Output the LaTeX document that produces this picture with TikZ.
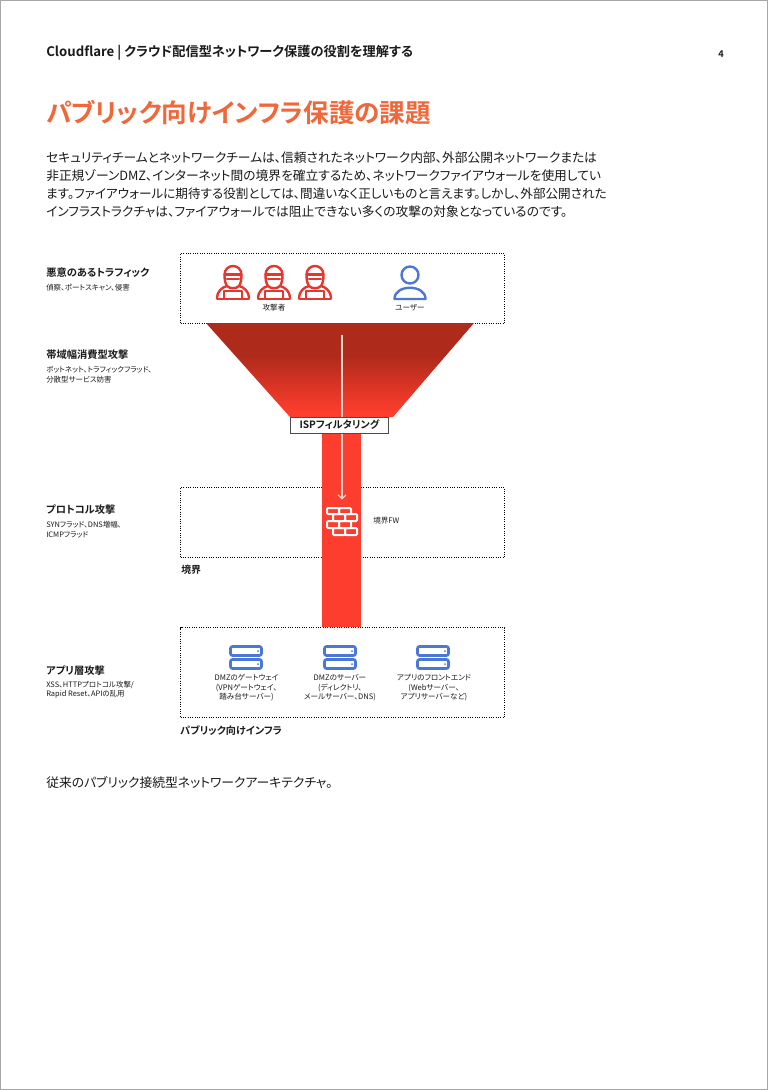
\documentclass[tikz,border=0pt]{standalone}
\usepackage{fontspec}
\setmainfont{Noto Sans CJK JP}[RawFeature=+palt]
\newfontfamily\jpbold{Noto Sans CJK JP Bold}[RawFeature=+palt]
\usetikzlibrary{arrows.meta}
\definecolor{ink}{HTML}{1A1A1A}
\definecolor{titlec}{HTML}{F0673A}
\definecolor{redc}{HTML}{E5372D}
\definecolor{bluec}{HTML}{4A78D4}
\definecolor{colc}{HTML}{FD3D2D}
\definecolor{fundark}{HTML}{AE2A1B}
\definecolor{arrowc}{HTML}{F7D6CC}
\pgfdeclareverticalshading{funnelshade}{100bp}{color(0bp)=(colc); color(28bp)=(colc); color(58bp)=(fundark); color(100bp)=(fundark)}
\tikzset{
 x=0.75pt,y=-0.75pt,
 txt/.style={anchor=west,inner sep=0pt,text=ink,font=\fontsize{#1}{#1}\selectfont},
 btxt/.style={anchor=west,inner sep=0pt,text=ink,font=\fontsize{#1}{#1}\selectfont\jpbold},
 ctxt/.style={anchor=center,inner sep=0pt,text=ink,font=\fontsize{5.7}{5.7}\selectfont},
 zone/.style={draw=black,densely dotted,line width=0.75pt,fill=white,inner sep=0pt,anchor=north west},
 brick/.style={draw=white,line width=1.5pt,rounded corners=0.8pt},
 attacker/.pic={
  \begin{scope}[draw=redc,line width=1.8pt,line join=round,line cap=round]
  \draw (-6,-13) .. controls (-8,-16) and (-8.5,-20) .. (-8.5,-24) .. controls (-8.5,-36) and (8.5,-36) .. (8.5,-24) .. controls (8.5,-20) and (8,-16) .. (6,-13) .. controls (3,-10) and (-3,-10) .. (-6,-13) -- cycle;
  \draw (-8.5,-24.5) -- (8.5,-24.5);
  \draw[line width=2.2pt] (-6,-20) -- (6,-20);
  \draw (-16,-1.5) .. controls (-16,-7) and (-11,-12) .. (-6,-13);
  \draw (16,-1.5) .. controls (16,-7) and (11,-12) .. (6,-13);
  \draw (-16,-1.5) -- (-16,0) -- (16,0) -- (16,-1.5);
  \draw (-9,0) -- (-9,-8) -- (9,-8) -- (9,0);
  \end{scope}},
 person/.pic={
  \begin{scope}[draw=bluec,line width=1.8pt,line join=round,line cap=round]
  \draw (0,-24) circle[radius=8.5];
  \draw (-15.5,0) .. controls (-15.5,-15) and (15.5,-15) .. (15.5,0) -- cycle;
  \end{scope}},
 serverbox/.pic={
  \begin{scope}[line width=2pt,draw=bluec]
  \draw[rounded corners=1.5pt] (-15.5,-11.5) rectangle (15.5,-2.5);
  \draw[rounded corners=1.5pt] (-15.5,1.5) rectangle (15.5,10.5);
  \fill[bluec] (12,-7) circle[radius=1];
  \fill[bluec] (12,6) circle[radius=1];
  \end{scope}},
}
\begin{document}
\begin{tikzpicture}
\useasboundingbox (0,0) rectangle (768,1090);
\fill[white] (0,0) rectangle (768,1090);
\draw[draw=black!35,line width=0.75pt] (0.5,0.5) rectangle (767.5,1089.5);

% header
\node[btxt=9.9] (head) at (46,53) {Cloudflare | クラウド配信型ネットワーク保護の役割を理解する};
\node[btxt=7,anchor=center] (pageno) at (721,54) {4};
\node[anchor=west,inner sep=0pt,text=titlec,font=\fontsize{19.2}{19.2}\selectfont\jpbold] (title) at (46,113) {パブリック向けインフラ保護の課題};
\node[txt=9.55] (b1) at (46,158) {セキュリティチームとネットワークチームは、信頼されたネットワーク内部、外部公開ネットワークまたは};
\node[txt=9.55] (b2) at (46,176) {非正規ゾーンDMZ、インターネット間の境界を確立するため、ネットワークファイアウォールを使用してい};
\node[txt=9.45] (b3) at (46,194) {ます。ファイアウォールに期待する役割としては、間違いなく正しいものと言えます。しかし、外部公開された};
\node[txt=9.55] (b4) at (46,212) {インフラストラクチャは、ファイアウォールでは阻止できない多くの攻撃の対象となっているのです。};

% zones
\node[zone,minimum width=243pt,minimum height=52.5pt] (zoneA) at (180,253) {};
\node[zone,minimum width=243pt,minimum height=52.5pt] (zoneB) at (180,487) {};
\node[zone,minimum width=243pt,minimum height=67.5pt] (zoneC) at (180,627) {};

% funnel and column
\shade[shading=funnelshade] (206,323) -- (474,323) -- (393,417) -- (290,417) -- cycle;
\fill[colc] (322,433) rectangle (361,627);

% icons
\pic at (233,299) {attacker};
\pic at (274,299) {attacker};
\pic at (315,299) {attacker};
\pic at (410,299) {person};
\node[ctxt] (attk) at (274,308) {攻撃者};
\node[ctxt] (user) at (410,308) {ユーザー};

% firewall
\coordinate (fw) at (342,522);
\begin{scope}[shift={(fw)}]
 \draw[brick] (-15,-14) rectangle (-3,-8);
 \draw[brick] (-3,-14) rectangle (9,-8);
 \draw[brick] (-9,-8) rectangle (3,-1);
 \draw[brick] (3,-8) rectangle (15,-1);
 \draw[brick] (-15,-1) rectangle (-3,6);
 \draw[brick] (-3,-1) rectangle (9,6);
 \draw[brick] (-9,6) rectangle (3,13);
 \draw[brick] (3,6) rectangle (15,13);
\end{scope}
\coordinate (fwtop) at (342,499.5);
\coordinate (flowstart) at (342,335);
\draw[-{Straight Barb[length=3pt,width=6pt]},draw=arrowc,line width=0.8pt] (flowstart) -- (fwtop);
\node[draw=black!70,line width=0.6pt,fill=white,minimum width=74pt,minimum height=12pt,inner sep=0pt,font=\fontsize{7.6}{7.6}\selectfont\jpbold,text=ink] (isp) at (339.5,425) {ISPフィルタリング};
\node[ctxt,anchor=west] (fwl) at (373,520.5) {境界FW};
\node[btxt=7.4] (bl) at (181,570) {境界};

% servers
\pic at (246,658) {serverbox};
\pic at (340,658) {serverbox};
\pic at (433,658) {serverbox};
\node[ctxt,align=center,font=\fontsize{5.7}{7.1}\selectfont] (s1) at (246.5,688) {DMZのゲートウェイ\\(VPNゲートウェイ、\\踏み台サーバー)};
\node[ctxt,align=center,font=\fontsize{5.7}{7.1}\selectfont] (s2) at (340,688) {DMZのサーバー\\(ディレクトリ、\\メールサーバー、DNS)};
\node[ctxt,align=center,font=\fontsize{5.7}{7.1}\selectfont] (s3) at (434,688) {アプリのフロントエンド\\(Webサーバー、\\アプリサーバーなど)};
\node[btxt=7.6] (pi) at (180,731) {パブリック向けインフラ};

% left labels
\node[btxt=7.7] (l1) at (46,273) {悪意のあるトラフィック};
\node[txt=5.6] (l1s) at (46,288) {偵察、ポートスキャン、侵害};
\node[btxt=7.7] (l2) at (46,355) {帯域幅消費型攻撃};
\node[txt=5.6] (l2s) at (46,370) {ボットネット、トラフィックフラッド、};
\node[txt=5.6] (l2t) at (46,380) {分散型サービス妨害};
\node[btxt=7.7] (l3) at (46,510) {プロトコル攻撃};
\node[txt=5.6] (l3s) at (46,525) {SYNフラッド、DNS増幅、};
\node[txt=5.6] (l3t) at (46,535) {ICMPフラッド};
\node[btxt=7.7] (l4) at (46,671) {アプリ層攻撃};
\node[txt=5.6] (l4s) at (46,685) {XSS、HTTPプロトコル攻撃/};
\node[txt=5.6] (l4t) at (46,694) {Rapid Reset、APIの乱用};

\node[txt=9.6] (cap) at (46,782.5) {従来のパブリック接続型ネットワークアーキテクチャ。};
\end{tikzpicture}
\end{document}
